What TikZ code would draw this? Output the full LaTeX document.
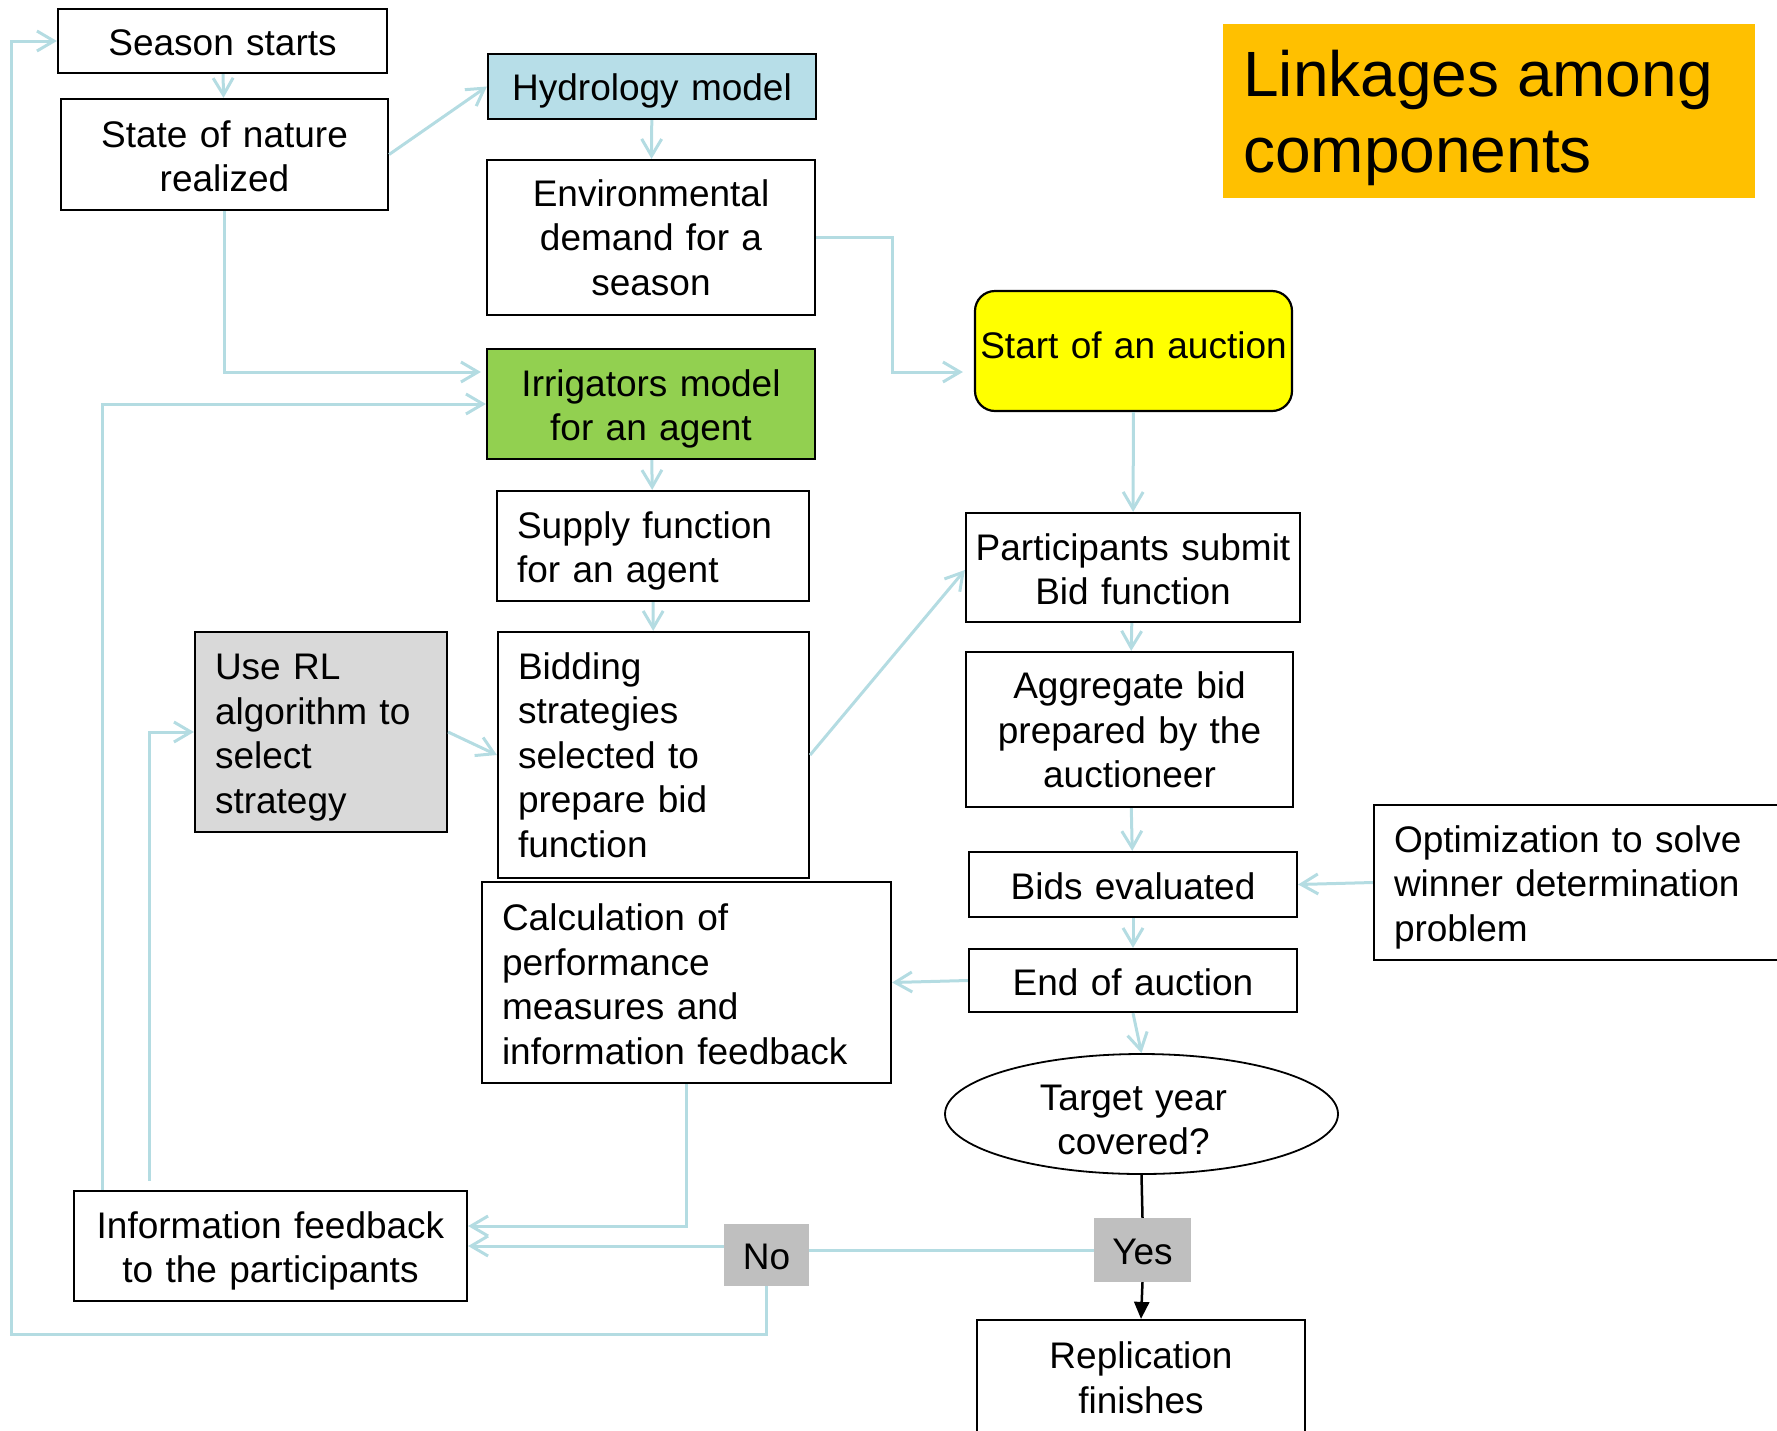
\documentclass[tikz,border=0pt]{standalone}
\usepackage{fontspec}
\setmainfont{Liberation Sans}
\usetikzlibrary{arrows.meta,shapes.geometric,calc}
\definecolor{lineblue}{RGB}{180,220,226}
\definecolor{hydrofill}{RGB}{183,222,232}
\definecolor{irrgreen}{RGB}{146,208,80}
\definecolor{auctyellow}{RGB}{255,255,0}
\definecolor{rlgray}{RGB}{217,217,217}
\definecolor{yngray}{RGB}{191,191,191}
\definecolor{titleorange}{RGB}{255,192,0}
\begin{document}
\begin{tikzpicture}[x=1pt,y=-1pt,
  basebox/.style={draw=black, line width=2.2pt, rectangle, inner ysep=4pt,
    font=\fontsize{37}{44.5}\selectfont},
  cbox/.style={basebox, align=center, inner xsep=4pt, text width=#1pt},
  lbox/.style={basebox, align=left, inner xsep=20pt},
  ynbox/.style={fill=yngray, inner sep=0pt, font=\fontsize{37}{44.5}\selectfont},
  sh/.style={execute at begin node={\rule{0pt}{#1pt}}},
  conn/.style={draw=lineblue, line width=3pt, -{Straight Barb[length=17pt,width=20pt]}},
  bconn/.style={draw=black, line width=2.5pt},
]
\useasboundingbox (0,0) rectangle (1777,1430);
\clip (0,0) rectangle (1777,1430);

% title
\node[fill=titleorange, minimum width=532pt, minimum height=174pt, anchor=north west, inner sep=0pt] (titlebox) at (1223,24) {};
\node[anchor=north west, align=left, inner sep=0pt, font=\fontsize{64}{76}\selectfont] (title) at (1243,50) {Linkages among\\components};

% left column
\node[cbox=321, sh=30, minimum height=64pt] (season) at (222.5,41) {Season starts};
\node[cbox=319, sh=30.5, minimum height=111pt] (state) at (224.5,154.5) {State of nature\\realized};

% middle column
\node[cbox=320, sh=36, fill=hydrofill, minimum height=65pt] (hydro) at (652,86.5) {Hydrology model};
\node[cbox=320, minimum height=155pt] (env) at (651,237.5) {Environmental\\demand for a\\season};
\node[cbox=320, sh=37, fill=irrgreen, minimum height=110pt] (irrig) at (651,404) {Irrigators model\\for an agent};
\node[lbox, sh=37, text width=272pt, minimum height=110pt] (supply) at (653,546) {Supply function\\for an agent};
\node[lbox, text width=271pt, minimum height=246pt] (bidding) at (653.5,755) {Bidding\\strategies\\selected to\\prepare bid\\function};
\node[lbox, sh=37, fill=rlgray, text width=212pt, minimum height=200pt] (rl) at (321,732) {Use RL\\algorithm to\\select\\strategy};
\node[lbox, sh=30.5, text width=369pt, minimum height=201pt] (calc) at (686.5,982.5) {Calculation of\\performance\\measures and\\information feedback};
\node[cbox=385, sh=37, minimum height=110pt] (info) at (270.5,1246) {Information feedback\\to the participants};

% right column
\node[cbox=309, fill=auctyellow, rounded corners=20pt, minimum height=120pt, text depth=12pt] (auction) at (1133.5,351) {Start of an auction};
\node[cbox=326, sh=30.5, minimum height=109pt] (partic) at (1133,567.5) {Participants submit\\Bid function};
\node[cbox=319, sh=28, minimum height=155pt] (aggr) at (1129.5,729.5) {Aggregate bid\\prepared by the\\auctioneer};
\node[cbox=320, sh=30, minimum height=65pt] (evald) at (1133,884.5) {Bids evaluated};
\node[cbox=320, sh=30, minimum height=63pt] (endauc) at (1133,980.5) {End of auction};
\node[basebox, ellipse, inner sep=0pt, align=center, text width=230pt, text height=30pt, text depth=37.5pt, minimum width=393pt, minimum height=120pt, line width=1.8pt] (target) at (1141.5,1114) {Target year\rule{16pt}{0pt}\\covered?\rule{16pt}{0pt}};
\node[ynbox, sh=29, minimum width=97pt, minimum height=64pt] (yes) at (1142.5,1250) {Yes};
\node[ynbox, sh=30, minimum width=85pt, minimum height=62pt] (no) at (766.5,1255) {No};
\node[cbox=320, sh=30, minimum height=112pt] (repl) at (1141,1376) {Replication\\finishes};
\node[lbox, sh=36.5, text width=371pt, minimum height=155pt] (optim) at (1579.5,882.5) {Optimization to solve\\winner determination\\problem};

% connectors
\draw[conn] (season) -- (state);
\draw[conn] (state.east) -- (hydro.west);
\draw[conn] (hydro) -- (env);
\draw[conn] (env.east) -- ++(76,0) |- ($(auction.west)+(-11,21)$);
\draw[conn] (state.south) |- ($(irrig.west)+(-5,-32)$);
\draw[conn] ($(info.north west)+(30,0)$) |- (irrig.west);
\draw[conn] (irrig) -- (supply);
\draw[conn] (supply) -- (bidding);
\draw[conn] (rl.east) -- (bidding.west);
\draw[conn] ($(info.north west)+(77,-9)$) |- (rl.west);
\draw[conn] (bidding.east) -- ($(partic.west)+(0,2.5)$);
\draw[conn] (auction) -- (partic);
\draw[conn] (partic) -- (aggr);
\draw[conn] (aggr) -- (evald);
\draw[conn] (optim.west) -- (evald.east);
\draw[conn] (evald) -- (endauc);
\draw[conn] (endauc.west) -- (calc.east);
\draw[conn] (endauc.south) -- (target.north);
\draw[conn] (calc.south) |- ($(info.east)+(0,-20)$);
\draw[bconn] (target.south) -- (yes.north);
\draw[bconn, -{Triangle[length=17pt,width=15pt]}] (yes.south) -- (repl.north);
\draw[draw=lineblue, line width=3pt] (yes.west) -- (no.east |- yes.west);
\draw[conn] (no.west |- info.east) -- (info.east);
\draw[conn] (no.south) -- ++(0,48) -- ++(-755,0) |- (season.west);
\end{tikzpicture}
\end{document}
